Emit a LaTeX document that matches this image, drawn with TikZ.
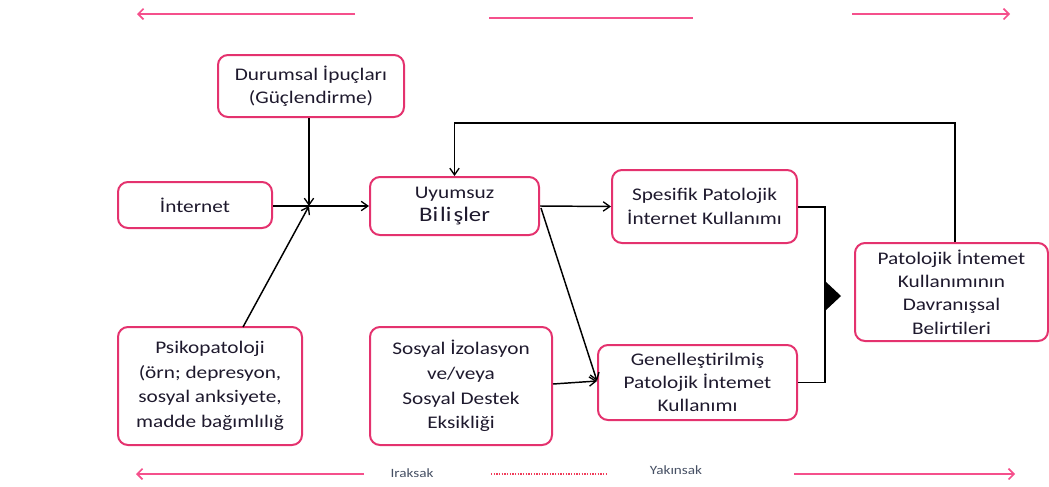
\documentclass[tikz,border=0pt]{standalone}
\usepackage{fontspec}
\setmainfont{Carlito}[FakeStretch=1.2]
\usetikzlibrary{arrows.meta}
\definecolor{boxpink}{RGB}{228,50,110}
\definecolor{arrpink}{RGB}{245,80,140}
\definecolor{dotred}{RGB}{240,60,90}
\definecolor{txt}{RGB}{30,25,45}
\definecolor{lbl}{RGB}{70,80,100}
\tikzset{
  bx/.style={draw=boxpink, line width=1.5pt, rounded corners=7.5pt, align=center, text=txt,
    font=\fontsize{13.3}{17.5}\selectfont, inner sep=0pt},
  con/.style={draw=black, line width=1.1pt},
  arr/.style={con, -{Straight Barb[length=5pt,width=7pt,line width=1pt]}},
  parr/.style={draw=arrpink, line width=1.5pt, -{Straight Barb[length=4pt,width=8pt,line width=1.2pt]}},
}
\begin{document}
\begin{tikzpicture}[x=0.75pt,y=-0.75pt]
\useasboundingbox (0,0) rectangle (1049,486);
% boxes
\node[bx, minimum width=186*0.75pt, minimum height=62*0.75pt] (dur) at (311,86) {Durumsal İpuçları\\(Güçlendirme)};
\node[bx, minimum width=154*0.75pt, minimum height=46*0.75pt] (int) at (195,205) {İnternet};
\node[bx, minimum width=169*0.75pt, minimum height=58*0.75pt] (uyu) at (454.5,206) {Uyumsuz\\{\fontsize{15.5}{18.5}\selectfont Bi\hspace{1.5pt}li\hspace{1.5pt}şler}};
\node[bx, minimum width=185*0.75pt, minimum height=73*0.75pt] (spe) at (704.5,206.5) {Spesifik Patolojik\\İnternet Kullanımı};
\node[bx, minimum width=199*0.75pt, minimum height=75*0.75pt] (gen) at (697.5,382.5) {Genelleştirilmiş\\Patolojik İntemet\\Kullanımı};
\node[bx, minimum width=193*0.75pt, minimum height=98*0.75pt] (pat) at (951.5,292) {Patolojik İntemet\\Kullanımının\\Davranışsal\\Belirtileri};
\node[bx, minimum width=184*0.75pt, minimum height=118*0.75pt, font=\fontsize{13.3}{18.5}\selectfont] (psi) at (210,386) {Psikopatoloji\\(örn; depresyon,\\sosyal anksiyete,\\madde bağımlılığ};
\node[bx, minimum width=182*0.75pt, minimum height=118*0.75pt, font=\fontsize{13.3}{18.5}\selectfont] (sos) at (461,386) {Sosyal İzolasyon\\ve/veya\\Sosyal Destek\\Eksikliği};
% connectors
\coordinate (j) at (309,206);
\draw[con] (int.east |- j) -- (j);
\draw[arr] (j) -- (uyu.west |- j);
\draw[arr] (dur.south -| j) -- (j);
\coordinate (ps) at (243,327);
\draw[arr] (ps) -- (j);
\draw[arr] (uyu.east) -- (spe.west);
\coordinate (ue) at (541,208);
\draw[arr] (ue) -- (597,381);
\draw[arr] (sos.east |- 0,384) -- (gen.west |- 0,381);
\coordinate (bar) at (825,207);
\draw[con] (spe.east |- bar) -- (bar) -- (bar |- gen.east) -- (gen.east);
\fill[black] (825,281) -- (841,296) -- (825,311) -- cycle;
\coordinate (fb) at (955,123);
\draw[arr] (pat.north -| fb) -- (fb) -- (fb -| uyu.north) -- (uyu.north);
% top pink arrows
\coordinate (tl1) at (355,14); \coordinate (tl2) at (137,14);
\draw[parr] (tl1) -- (tl2);
\coordinate (tm1) at (489,18); \coordinate (tm2) at (693,18);
\draw[draw=arrpink, line width=1.5pt] (tm1) -- (tm2);
\coordinate (tr1) at (852,14); \coordinate (tr2) at (1010,14);
\draw[parr] (tr1) -- (tr2);
% bottom
\coordinate (bl1) at (364,474); \coordinate (bl2) at (136,474);
\draw[parr] (bl1) -- (bl2);
\node[text=lbl, font=\fontsize{9.5}{11}\selectfont] (ira) at (412,473) {Iraksak};
\coordinate (bd1) at (491,474); \coordinate (bd2) at (606,474);
\draw[draw=dotred, line width=1pt, dash pattern=on 1pt off 1pt] (bd1) -- (bd2);
\node[text=lbl, font=\fontsize{9.5}{11}\selectfont] (yak) at (676,470) {Yakınsak};
\coordinate (br1) at (794,474); \coordinate (br2) at (1015,474);
\draw[parr] (br1) -- (br2);
\end{tikzpicture}
\end{document}
